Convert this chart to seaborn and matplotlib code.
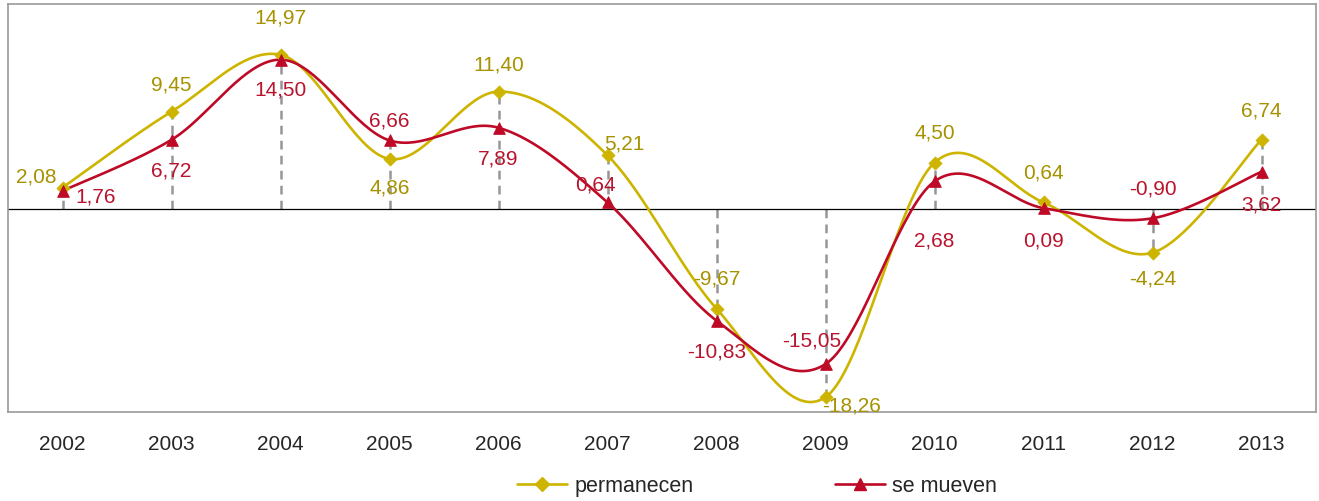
import numpy as np
import pandas as pd
import seaborn as sns
import matplotlib.pyplot as plt
from matplotlib.lines import Line2D

years = ['2002', '2003', '2004', '2005', '2006', '2007',
         '2008', '2009', '2010', '2011', '2012', '2013']
permanecen = [2.08, 9.45, 14.97, 4.86, 11.40, 5.21, -9.67, -18.26, 4.50, 0.64, -4.24, 6.74]
se_mueven = [1.76, 6.72, 14.50, 6.66, 7.89, 0.64, -10.83, -15.05, 2.68, 0.09, -0.90, 3.62]

# label placement (dx, dy in points)
perm_pos = [(-19, 8), (0, 20), (0, 27), (0, -20), (0, 20), (12, 9),
            (0, 22), (19, -6), (0, 22), (0, 22), (0, -18), (0, 21)]
mov_pos = [(24, -4), (0, -22), (0, -21), (0, 15), (0, -22), (-9, 13),
           (0, -22), (-10, 17), (0, -42), (0, -23), (0, 22), (0, -23)]

c_perm = '#CDB400'
c_perm_txt = '#A69200'
c_mov = '#BE0A26'
c_mov_txt = '#B8142E'

sns.set_style('white')
plt.rcParams['font.family'] = ['Liberation Sans', 'DejaVu Sans']


def smooth(y, n=40):
    # Catmull-Rom style curve through the points, like Excel's smoothed line
    y = np.asarray(y, float)
    x = np.arange(len(y), dtype=float)
    px = np.concatenate([[x[0]], x, [x[-1]]])
    py = np.concatenate([[y[0]], y, [y[-1]]])
    xs, ys = [], []
    t = np.linspace(0, 1, n)
    for i in range(1, len(px) - 2):
        p0, p1, p2, p3 = [np.array([px[j], py[j]]) for j in (i - 1, i, i + 1, i + 2)]
        c1 = p1 + (p2 - p0) / 6
        c2 = p2 - (p3 - p1) / 6
        b = ((1 - t) ** 3)[:, None] * p1 + (3 * (1 - t) ** 2 * t)[:, None] * c1 \
            + (3 * (1 - t) * t ** 2)[:, None] * c2 + (t ** 3)[:, None] * p2
        xs.append(b[:, 0])
        ys.append(b[:, 1])
    return np.concatenate(xs), np.concatenate(ys)


fig = plt.figure(figsize=(13.19, 5.02), dpi=100)
ax = fig.add_axes([8 / 1319, 1 - 413 / 502, 1308 / 1319, 408 / 502])

x = np.arange(len(years))

# drop lines
for i in range(len(years)):
    v = permanecen[i] if abs(permanecen[i]) >= abs(se_mueven[i]) else se_mueven[i]
    ax.plot([i, i], [0, v], color='#969696', lw=1.8, ls=(0, (3.5, 2.5)), zorder=1)

ax.axhline(0, color='black', lw=0.9, zorder=2)

sx, sy = smooth(permanecen)
ax.plot(sx, sy, color=c_perm, lw=1.9, zorder=3)
sx, sy = smooth(se_mueven)
ax.plot(sx, sy, color=c_mov, lw=1.9, zorder=4)

df = pd.DataFrame({'x': x, 'permanecen': permanecen, 'se mueven': se_mueven})
sns.scatterplot(data=df, x='x', y='permanecen', marker='D', s=45, color=c_perm,
                edgecolor=c_perm, ax=ax, zorder=5)
sns.scatterplot(data=df, x='x', y='se mueven', marker='^', s=70, color=c_mov,
                edgecolor=c_mov, ax=ax, zorder=6)


def fmt(v):
    return f'{v:.2f}'.replace('.', ',')


for i in range(len(years)):
    ax.annotate(fmt(permanecen[i]), (i, permanecen[i]), xytext=perm_pos[i],
                textcoords='offset points', ha='center', va='center',
                fontsize=15, color=c_perm_txt, zorder=7)
    ax.annotate(fmt(se_mueven[i]), (i, se_mueven[i]), xytext=mov_pos[i],
                textcoords='offset points', ha='center', va='center',
                fontsize=15, color=c_mov_txt, zorder=7)

ax.set_xlim(-0.5, 11.5)
ax.set_ylim(-19.7, 19.9)
ax.set_yticks([])
ax.set_xticks(x)
ax.set_xticklabels(years, fontsize=15)
ax.tick_params(axis='x', length=0, pad=16)
ax.set_xlabel('')
ax.set_ylabel('')
for s in ax.spines.values():
    s.set_color('#9a9a9a')
    s.set_linewidth(1.2)

handles = [Line2D([], [], color=c_perm, lw=1.9, marker='D', ms=7),
           Line2D([], [], color=c_mov, lw=1.9, marker='^', ms=9)]
fig.legend(handles, ['permanecen', 'se mueven'], loc='center',
           bbox_to_anchor=(0.574, 1 - 487 / 502), ncol=2, frameon=False,
           fontsize=15.5, handlelength=2.3, handletextpad=0.35, columnspacing=6.6)

fig.savefig('out.png', dpi=100)
